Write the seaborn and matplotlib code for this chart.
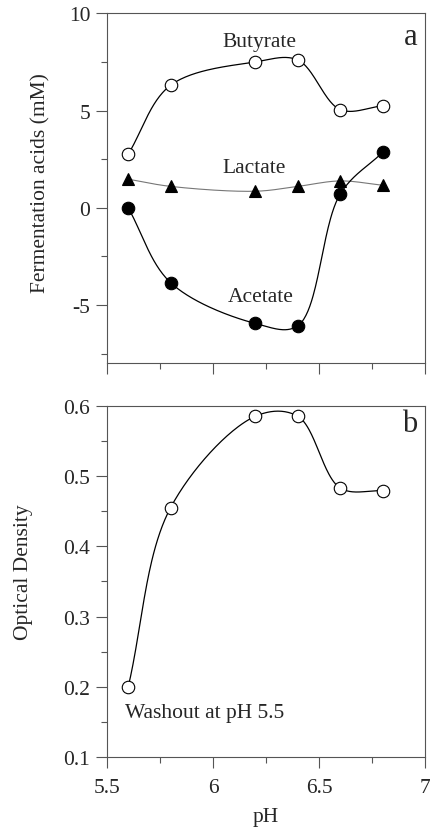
import numpy as np
import pandas as pd
import matplotlib
matplotlib.use('Agg')
import matplotlib.pyplot as plt
import seaborn as sns
from matplotlib.ticker import MultipleLocator

# 데이터
ph = [5.6, 5.8, 6.2, 6.4, 6.6, 6.8]
butyrate = [2.75, 6.3, 7.5, 7.6, 5.05, 5.24]
lactate = [1.47, 1.1, 0.85, 1.1, 1.38, 1.16]
acetate = [0.0, -3.85, -5.95, -6.07, 0.7, 2.85]
optical_density = [0.200, 0.455, 0.585, 0.585, 0.483, 0.479]

sns.set_style('ticks')
plt.rcParams['font.family'] = ['Liberation Serif', 'DejaVu Serif']
plt.rcParams['axes.unicode_minus'] = False
FS = 15.5


# 화면 좌표에서 centripetal Catmull-Rom 곡선 (점들을 매끄럽게 연결)
def smooth(ax, x, y, n=50, alpha=0.5):
    pts = ax.transData.transform(np.column_stack([x, y]))
    p = np.vstack([2 * pts[0] - pts[1], pts, 2 * pts[-1] - pts[-2]])
    out = []
    for i in range(1, len(p) - 2):
        P0, P1, P2, P3 = p[i - 1], p[i], p[i + 1], p[i + 2]
        t0 = 0.0
        t1 = t0 + np.linalg.norm(P1 - P0) ** alpha
        t2 = t1 + np.linalg.norm(P2 - P1) ** alpha
        t3 = t2 + np.linalg.norm(P3 - P2) ** alpha
        t = np.linspace(t1, t2, n)[:, None]
        A1 = (t1 - t) / (t1 - t0) * P0 + (t - t0) / (t1 - t0) * P1
        A2 = (t2 - t) / (t2 - t1) * P1 + (t - t1) / (t2 - t1) * P2
        A3 = (t3 - t) / (t3 - t2) * P2 + (t - t2) / (t3 - t2) * P3
        B1 = (t2 - t) / (t2 - t0) * A1 + (t - t0) / (t2 - t0) * A2
        B2 = (t3 - t) / (t3 - t1) * A2 + (t - t1) / (t3 - t1) * A3
        out.append((t2 - t) / (t2 - t1) * B1 + (t - t1) / (t2 - t1) * B2)
    d = ax.transData.inverted().transform(np.vstack(out))
    return d[:, 0], d[:, 1]


fig = plt.figure(figsize=(4.3, 8.28), dpi=100)
ax1 = fig.add_axes([0.2488, 0.560, 0.7395, 0.4227])
ax2 = fig.add_axes([0.2488, 0.0842, 0.7395, 0.4246])

ax1.set_xlim(5.5, 7)
ax1.set_ylim(-8, 10)
ax2.set_xlim(5.5, 7)
ax2.set_ylim(0.1, 0.6)

# 패널 a
series = [
    (butyrate, 'o', 'white', 'black', 0.9),
    (lactate, '^', 'black', '#777777', 0.8),
    (acetate, 'o', 'black', 'black', 0.9),
]
for vals, mk, fc, lc, lw in series:
    xs, ys = smooth(ax1, ph, vals)
    sns.lineplot(x=xs, y=ys, ax=ax1, color=lc, lw=lw, sort=False, estimator=None)
    ax1.plot(ph, vals, ls='none', marker=mk, ms=9 if mk == 'o' else 8.5,
             mfc=fc, mec='black', mew=0.8, zorder=5, clip_on=False)

ax1.text(6.218, 8.55, 'Butyrate', ha='center', va='center', fontsize=FS)
ax1.text(6.195, 2.08, 'Lactate', ha='center', va='center', fontsize=FS)
ax1.text(6.223, -4.57, 'Acetate', ha='center', va='center', fontsize=FS)
ax1.text(6.965, 8.8, 'a', ha='right', va='center', fontsize=22)
ax1.yaxis.set_major_locator(MultipleLocator(5))
ax1.yaxis.set_minor_locator(MultipleLocator(2.5))
ax1.set_ylabel('Fermentation acids (mM)', fontsize=FS)
ax1.yaxis.set_label_coords(-0.179, 0.519)
ax1.tick_params(axis='x', labelbottom=False)

# 패널 b
xs, ys = smooth(ax2, ph, optical_density)
sns.lineplot(x=xs, y=ys, ax=ax2, color='black', lw=0.9, sort=False, estimator=None)
ax2.plot(ph, optical_density, ls='none', marker='o', ms=9, mfc='white',
         mec='black', mew=0.8, zorder=5, clip_on=False)
ax2.text(5.586, 0.1637, 'Washout at pH 5.5', ha='left', va='center', fontsize=FS)
ax2.text(6.965, 0.574, 'b', ha='right', va='center', fontsize=22)
ax2.yaxis.set_major_locator(MultipleLocator(0.1))
ax2.yaxis.set_minor_locator(MultipleLocator(0.05))
ax2.yaxis.set_major_formatter(plt.FuncFormatter(lambda v, p: f'{v:.1f}'))
ax2.set_ylabel('Optical Density', fontsize=FS)
ax2.yaxis.set_label_coords(-0.233, 0.528)
ax2.set_xlabel('pH', fontsize=FS)
ax2.xaxis.set_label_coords(0.5, -0.14)
ax2.xaxis.set_major_formatter(plt.FuncFormatter(lambda v, p: f'{v:g}'))

for ax in (ax1, ax2):
    ax.xaxis.set_major_locator(MultipleLocator(0.5))
    ax.xaxis.set_minor_locator(MultipleLocator(0.25))
    ax.tick_params(which='major', direction='out', length=8, width=0.8,
                   color='#555555', labelsize=FS)
    ax.tick_params(which='minor', direction='out', length=4, width=0.8,
                   color='#555555')
    ax.tick_params(axis='x', which='major', pad=7)
    ax.tick_params(axis='y', which='major', pad=4)
    for s in ax.spines.values():
        s.set_visible(True)
        s.set_color('#555555')
        s.set_linewidth(0.8)

fig.savefig('out.png', dpi=100)
